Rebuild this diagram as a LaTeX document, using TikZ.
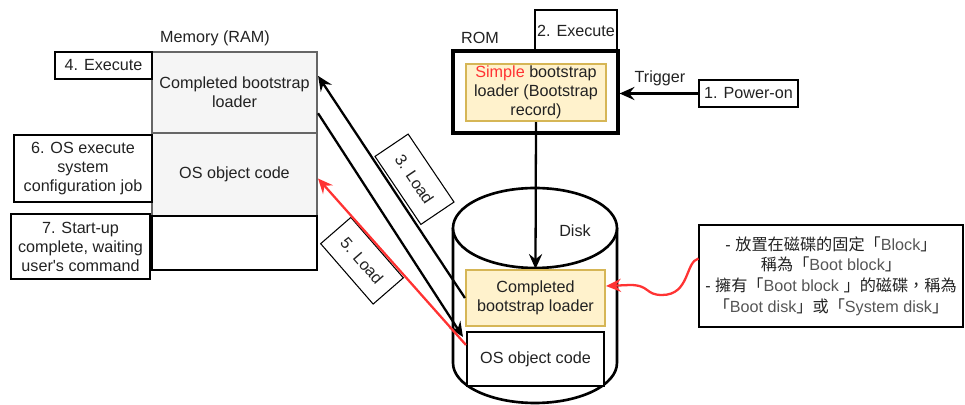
\documentclass[tikz,border=0pt]{standalone}
\usepackage{fontspec}
\setmainfont{Liberation Sans}
\newfontfamily\cjkfont{Noto Sans CJK TC}
\usetikzlibrary{arrows.meta,calc}
\definecolor{memfill}{HTML}{F5F5F5}
\definecolor{memline}{HTML}{666666}
\definecolor{notefill}{HTML}{FFF2CC}
\definecolor{noteline}{HTML}{D6B656}
\definecolor{linkred}{HTML}{FF3333}
\definecolor{ink}{HTML}{222222}
\definecolor{latgray}{HTML}{555555}
% CJK runs and Latin runs inside the boot block note
\newcommand{\cj}[1]{{\cjkfont #1}}
\newcommand{\lt}[1]{\textcolor{latgray}{#1}}

\begin{document}
\begin{tikzpicture}[x=0.02cm,y=-0.02cm,
  every node/.style={font=\fontsize{9.2}{10.8}\selectfont, text=ink, inner sep=0pt, align=center},
  sz/.style 2 args={minimum width=#1*0.02cm, minimum height=#2*0.02cm},
  cell/.style={draw=memline, fill=memfill, line width=1.2pt},
  freecell/.style={draw=black, fill=white, line width=1.2pt},
  tag/.style={draw=black, line width=0.6pt},
  yellowbox/.style={draw=noteline, fill=notefill, line width=1.2pt},
  arrow/.style={draw=black, line width=1.3pt, -{Stealth[length=8.5pt,width=7.5pt,inset=3pt]}},
  redarrow/.style={draw=linkred, line width=1.3pt, -{Stealth[length=8.5pt,width=7.5pt,inset=3pt]}}
]
\useasboundingbox (0,0) rectangle (965,405);

% main memory column
\node[cell, sz={165}{81}] (mem1) at (234.5,92.5) {Completed bootstrap\\loader};
\node[cell, sz={165}{83}] (mem2) at (234.5,174.5) {OS object code};
\node[freecell, sz={165}{54}] (mem3) at (234.5,243) {};
\node (memlabel) at (215,38) {Memory (RAM)};

% step tags on the left
\node[tag, sz={97}{27}] (exec4) at (103.5,65.5) {4. Execute};
\node[tag, sz={138}{67}] (osjob) at (83,168.5) {6. OS execute\\system\\configuration job};
\node[tag, sz={139}{65}] (startup) at (80.5,246.5) {7. Start-up\\complete, waiting\\user\textquotesingle s command};

% ROM with the simple loader
\node[draw=black, line width=1.8pt, sz={165}{82}] (rom) at (535.5,92) {};
\node[yellowbox, sz={140}{57}] (romin) at (536,92.5) {\textcolor{linkred}{Simple} bootstrap\\loader (Bootstrap\\record)};
\node (romlabel) at (480,38) {ROM};
\node[tag, sz={82}{41}] (exec2) at (576,30.5) {2. Execute};
\node[tag, sz={99}{27}] (power) at (748.5,93.5) {1. Power-on};
\node (trigger) at (660,78) {Trigger};

% disk cylinder
\path[draw=black, line width=1.5pt, fill=white]
  (453,228) -- (453,363) arc[start angle=180, end angle=360, x radius=1.64cm, y radius=0.8cm] -- (617,228);
\draw[line width=1.5pt, fill=white] (535,228) ellipse[x radius=1.64cm, y radius=0.8cm];
\node (disklabel) at (575,231) {Disk};
\node[yellowbox, sz={139}{56}] (diskbl) at (535.5,298) {Completed\\bootstrap loader};
\node[freecell, sz={137}{54}] (diskos) at (535.5,359) {OS object code};

% note about the boot block
\node[tag, sz={264}{102}, font=\fontsize{9.2}{11.7}\selectfont] (callout) at (831,276)
  {- \cj{放置在磁碟的固定「}\lt{Block}\cj{」}\\
   \cj{稱為「}\lt{Boot block}\cj{」}\\
   - \cj{擁有「}\lt{Boot block }\cj{」的磁碟，稱為}\\
   \cj{「}\lt{Boot disk}\cj{」或「}\lt{System disk}\cj{」}};

% rotated load labels
\node[tag, sz={82}{40}, rotate=-56] (load3) at (414.5,179.25) {3. Load};
\node[tag, sz={80}{40}, rotate=-49] (load5) at (362,260.75) {5. Load};

% connectors
\coordinate (m1a) at ($(mem1.north east)!0.3!(mem1.south east)$);
\coordinate (m1b) at ($(mem1.north east)!0.75!(mem1.south east)$);
\coordinate (osin) at ($(diskos.north west)+(-3,6)$);
\coordinate (osout) at ($(diskos.north west)!0.25!(diskos.south west)$);
\coordinate (m2in) at ($(mem2.east)+(0,4)$);
\coordinate (cin) at ($(callout.north west)+(0,34)$);
\coordinate (blin) at ($(diskbl.east)+(0,-12)$);

\draw[arrow] (power.west) -- (power.west -| rom.east);
\draw[arrow] (romin.south) -- (diskbl.north);
\draw[arrow] (diskbl.west) -- (m1a);
\draw[arrow] (m1b) -- (osin);
\draw[redarrow] (osout) -- (m2in);
\draw[redarrow] (cin) .. controls (685,262) and (690,295) .. (662,295)
  .. controls (645,295) and (650,285) .. (630,285) -- (blin);
\end{tikzpicture}
\end{document}
